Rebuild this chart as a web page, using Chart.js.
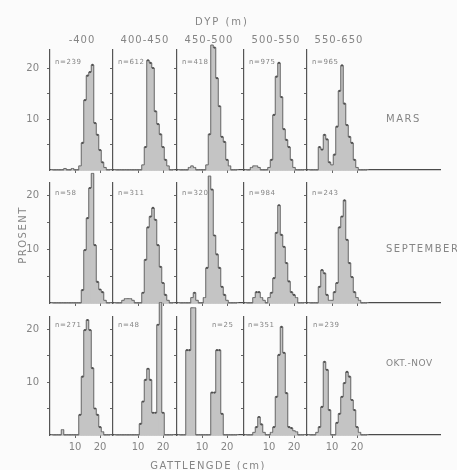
<!DOCTYPE html>
<html>
<head>
<meta charset="utf-8">
<script src="https://cdn.jsdelivr.net/npm/chart.js@4.4.0/dist/chart.umd.min.js"></script>
<style>
  body { margin: 0; background: #fbfbfb; }
  #fig { position: relative; width: 457px; height: 470px; overflow: hidden;
         font-family: "DejaVu Sans", sans-serif; color: #858585; }
  #fig canvas { position: absolute; }
  .lbl { position: absolute; white-space: nowrap; transform: translate(-50%, -50%);
         font-size: 10px; letter-spacing: 1px; }
  .left { transform: translate(0, -50%); }
  .nlbl { font-size: 7px; letter-spacing: 0.6px; }
</style>
</head>
<body>
<div id="fig"></div>
<script>
// fish length bins (cm), one value per 1-cm class
const binCm = [1, 2, 3, 4, 5, 6, 7, 8, 9, 10, 11, 12, 13, 14, 15, 16, 17, 18, 19, 20, 21, 22, 23, 24];
const depthClasses = ['-400', '400-450', '450-500', '500-550', '550-650'];
const months = ['MARS', 'SEPTEMBER', 'OKT.-NOV'];
const xTickValues = [10, 20];
const yTickValues = [5, 10, 15, 20];
const yTickLabels = [10, 20];

const nMars = [239, 612, 418, 975, 965];
const nSept = [58, 311, 320, 984, 243];
const nOktNov = [271, 48, 25, 351, 239];

// percent per length class, one row per depth class
const pctMars = [
  [0,0,0,0,0,0.3,0,0,0.3,0,0,0.8,5.3,13.7,18.5,19.2,20.6,9.2,6.9,3.9,1.5,0.5,0,0],
  [0,0,0,0,0,0,0,0,0,0,0,1,4.5,21.5,21,20,11.5,9,7,4.5,2,0.8,0,0],
  [0,0,0,0,0.5,0.8,0.5,0,0,0,0,1,7,24.5,24,18,12.5,6.5,5.5,2,0.8,0,0,0],
  [0,0,0.5,0.8,0.8,0.5,0,0,0,0.5,2,10.8,18.3,21,14.3,8,5.9,4.5,2,0.5,0,0,0,0],
  [0,0,0,0,4.5,4,6.9,6,1.5,1,3,8.5,15.5,20.5,13,8.8,6.5,5.3,2,0.5,0,0,0,0]
];
const pctSept = [
  [0,0,0,0,0,0,0,0,0,0,0,0,2.4,9.8,15.7,21.3,24,10.7,3.9,2.5,2,0.5,0,0],
  [0,0,0,0.5,0.8,0.8,0.8,0.5,0,0,0,1.9,8,14,16,17.6,15.4,10.7,6.7,3.7,1.5,0.5,0,0],
  [0,0,0,0,0,1,1.9,0.5,0,0,1,6.5,23.5,21,12.5,9,6.5,3,1.5,0.5,0,0,0,0],
  [0,0,0,1,2,2,1,0.5,0,1,1.9,4.6,13,18.1,12.6,10.4,7.4,4,2,1.5,1,0,0,0],
  [0,0,0,0,3,6.1,5.5,1.5,0.5,0.5,2,3.7,14,16,19,11.7,7.4,4.8,2,1,0.5,0,0,0]
];
const pctOktNov = [
  [0,0,0,0,1,0,0,0,0,0,0,3.8,11,19.8,21.7,19.8,12.6,5,3.8,1.5,0.6,0,0,0],
  [0,0,0,0,0,0,0,0,0,0,2.1,6.3,10.4,12.5,10.4,4.2,4.2,20.8,25,4.2,0,0,0,0],
  [0,0,0,16,16,24,24,0,0,0,0,0,0,8,8,16,16,4,0,0,0,0,0,0],
  [0,0,0,0.5,1.5,3.4,2,0.5,0,0,0.5,1.5,7.2,15.1,20.4,15.5,7.9,1.5,1.3,0.8,0.6,0,0,0],
  [0,0,0,0.5,1.5,5.3,13.8,12.3,4.7,0,0,2.3,4,7.2,9.8,11.9,11,6.6,4.7,1.5,0.5,0,0,0]
];

const rowsPct = [pctMars, pctSept, pctOktNov];
const rowsN = [nMars, nSept, nOktNov];

// layout (pixels)
const axisX = [50, 113, 177, 244, 307];
const baselineEnd = 440;
const rowBase = [170, 303, 435];
const rowAxisTop = [50, 183, 317];
const pxPerPct = [5.1, 5.4, 5.3];
const pxPerCm = 2.5;
const padL = 34, padT = 26, padB = 22, padR = 1;
const rowLabelPos = [[386, 118], [386, 248], [386, 363]];
const nLabelY = [62, 193, 325];
const nLabelDx = [[5, 5, 5, 5, 5], [5, 5, 5, 5, 5], [5, 5, 35, 4, 6]];

const fig = document.getElementById('fig');
const txtColor = '#858585';
const fontFam = '"DejaVu Sans", sans-serif';

function addText(text, x, y, cls, style) {
    const d = document.createElement('div');
    d.className = 'lbl ' + (cls || '');
    d.textContent = text;
    d.style.left = x + 'px';
    d.style.top = y + 'px';
    if (style) Object.assign(d.style, style);
    fig.appendChild(d);
    return d;
}

function createPanel(r, c) {
    const right = c < 4 ? axisX[c + 1] : baselineEnd;
    const plotW = right - axisX[c];
    const plotH = rowBase[r] - rowAxisTop[r];
    const canvas = document.createElement('canvas');
    canvas.width = padL + plotW + padR;
    canvas.height = padT + plotH + padB;
    canvas.style.left = (axisX[c] - padL) + 'px';
    canvas.style.top = (rowAxisTop[r] - padT) + 'px';
    fig.appendChild(canvas);

    const points = binCm.map((cm, i) => ({ x: cm, y: rowsPct[r][c][i] }));

    new Chart(canvas.getContext('2d'), {
        type: 'bar',
        data: {
            datasets: [{
                type: 'line',
                data: points,
                stepped: 'middle',
                borderColor: '#6a6a6a',
                borderWidth: 1,
                pointRadius: ctx => (ctx.raw && ctx.raw.y > 1 ? 1.1 : 0),
                pointBackgroundColor: '#505050',
                pointBorderWidth: 0,
                fill: false,
                clip: false,
                order: 0
            }, {
                data: points,
                backgroundColor: '#c4c4c4',
                borderWidth: 0,
                barPercentage: 1,
                categoryPercentage: 1,
                clip: false,
                order: 1
            }]
        },
        options: {
            responsive: false,
            animation: false,
            events: [],
            layout: { padding: { left: 0, top: padT, right: padR, bottom: 0 } },
            plugins: { legend: { display: false }, tooltip: { enabled: false } },
            scales: {
                x: {
                    type: 'linear',
                    offset: false,
                    min: 0,
                    max: plotW / pxPerCm,
                    afterBuildTicks: s => { s.ticks = xTickValues.map(v => ({ value: v })); },
                    afterFit: s => { s.height = padB; },
                    grid: { offset: false, drawOnChartArea: false, drawTicks: true, tickLength: 3, color: '#666', lineWidth: 1 },
                    border: { display: true, color: '#4a4a4a', width: 1.3 },
                    ticks: {
                        display: r === 2,
                        autoSkip: false,
                        maxRotation: 0,
                        padding: 3,
                        color: txtColor,
                        font: { size: 10, family: fontFam },
                        callback: v => String(v)
                    }
                },
                y: {
                    min: 0,
                    max: plotH / pxPerPct[r],
                    afterBuildTicks: s => { s.ticks = yTickValues.map(v => ({ value: v })); },
                    afterFit: s => { s.width = padL; },
                    grid: { drawOnChartArea: false, drawTicks: true, tickLength: 3, color: '#666', lineWidth: 1 },
                    border: { display: true, color: '#555', width: 1.2 },
                    ticks: {
                        padding: 8,
                        color: txtColor,
                        font: { size: 10, family: fontFam },
                        callback: v => (c === 0 && yTickLabels.includes(v) ? String(v) : '')
                    }
                }
            }
        }
    });

    addText('n=' + rowsN[r][c], axisX[c] + nLabelDx[r][c], nLabelY[r], 'left nlbl');
}

for (let r = 0; r < 3; r++) {
    for (let c = 0; c < 5; c++) {
        createPanel(r, c);
    }
}

addText('DYP (m)', 222, 21, '', { letterSpacing: '2px' });
depthClasses.forEach((d, c) => addText(d, axisX[c] + 32, 39));
months.forEach((m, r) => addText(m, rowLabelPos[r][0], rowLabelPos[r][1], 'left',
    { letterSpacing: r === 2 ? '0.5px' : '1.5px', fontSize: r === 2 ? '9px' : '10px' }));
addText('PROSENT', 22, 235, '', { transform: 'translate(-50%, -50%) rotate(-90deg)', letterSpacing: '1.5px' });
addText('GATTLENGDE (cm)', 208, 465, '', { letterSpacing: '1.5px' });
</script>
</body>
</html>
